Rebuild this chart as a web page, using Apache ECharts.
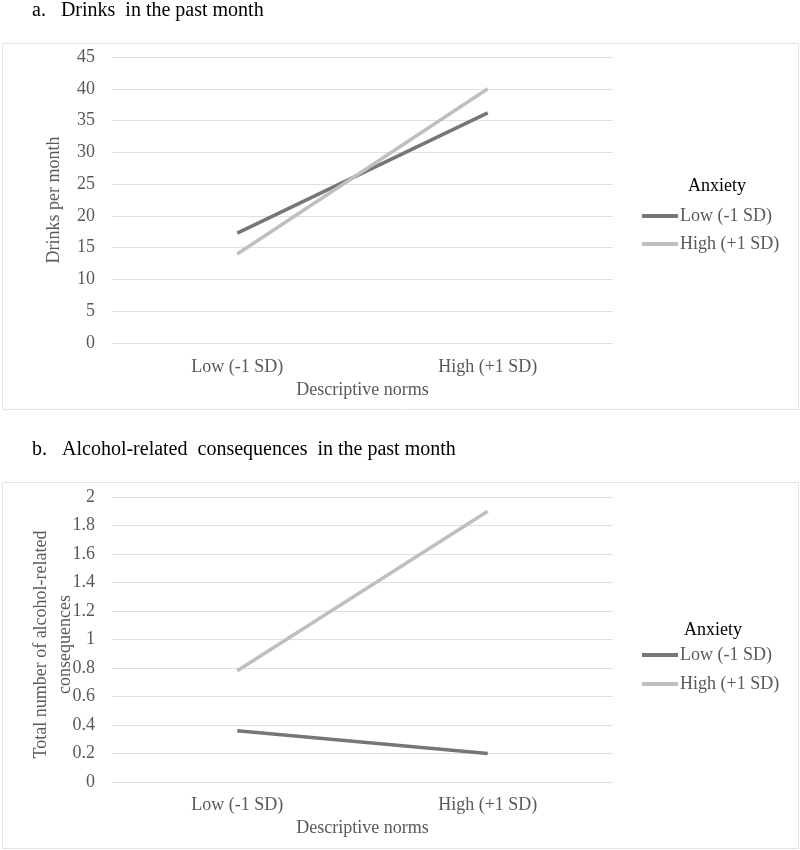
<!DOCTYPE html>
<html><head><meta charset="utf-8">
<script src="https://cdn.jsdelivr.net/npm/echarts@6/dist/echarts.min.js"></script>
<style>html,body{margin:0;padding:0;background:#fff}#c{width:800px;height:850px}</style>
</head><body><div id="c"></div>
<script>
const categories = ['Low (-1 SD)', 'High (+1 SD)'];
const seriesNames = ['Low (-1 SD)', 'High (+1 SD)'];
const drinksLowAnx = [17.3, 36.2];
const drinksHighAnx = [14.0, 40.0];
const consLowAnx = [0.36, 0.20];
const consHighAnx = [0.78, 1.90];
const titleA = 'a.   Drinks  in the past month';
const titleB = 'b.   Alcohol-related  consequences  in the past month';

const FONT = '"Liberation Serif", "Times New Roman", serif';
const GREY = '#595959';
const DARK = '#767676', LIGHT = '#bfbfbf';

const chart = echarts.init(document.getElementById('c'), null, {renderer: 'canvas'});
const axisLabel = {color: GREY, fontFamily: FONT, fontSize: 18};
function xAxis(gi, margin, gap) {
  return {type: 'category', gridIndex: gi, data: categories, boundaryGap: true,
    axisLine: {show: false}, axisTick: {show: false},
    axisLabel: Object.assign({margin: margin}, axisLabel),
    name: 'Descriptive norms', nameLocation: 'middle', nameGap: gap,
    nameTextStyle: {color: GREY, fontFamily: FONT, fontSize: 18}};
}
const ttl = {fontFamily: FONT, fontSize: 20, fontWeight: 'normal', color: '#000'};
const legTtl = {fontFamily: FONT, fontSize: 18, fontWeight: 'normal', color: '#000'};
chart.setOption({
  animation: false,
  textStyle: {fontFamily: FONT},
  title: [
    {text: titleA, left: 27, top: -4, textStyle: ttl},
    {text: titleB, left: 27, top: 435, textStyle: ttl},
    {text: 'Anxiety', left: 683, top: 172, textStyle: legTtl},
    {text: 'Anxiety', left: 679, top: 616, textStyle: legTtl}
  ],
  graphic: [
    {type: 'rect', shape: {x: 2.5, y: 43.5, width: 796, height: 366}, style: {fill: 'none', stroke: '#e3e3e3', lineWidth: 1}, z: -1},
    {type: 'rect', shape: {x: 2.5, y: 482.5, width: 796, height: 366}, style: {fill: 'none', stroke: '#e3e3e3', lineWidth: 1}, z: -1}
  ],
  legend: [
    {data: seriesNames.map(n => ({name: n})), orient: 'vertical', left: 637, top: 202, itemWidth: 36, itemHeight: 4, itemGap: 10,
      icon: 'rect', selectedMode: false, textStyle: {color: GREY, fontFamily: FONT, fontSize: 18, padding: [0,0,0,-3]}},
    {data: seriesNames.map(n => ({name: n})), orient: 'vertical', left: 637, top: 641, itemWidth: 36, itemHeight: 4, itemGap: 11,
      icon: 'rect', selectedMode: false, textStyle: {color: GREY, fontFamily: FONT, fontSize: 18, padding: [0,0,0,-3]}}
  ],
  grid: [
    {left: 112, width: 501, top: 57, height: 286},
    {left: 112, width: 501, top: 497, height: 285}
  ],
  xAxis: [xAxis(0, 15, 38), xAxis(1, 14, 37)],
  yAxis: [
    {type: 'value', gridIndex: 0, min: 0, max: 45, interval: 5,
      axisLine: {show: false}, axisTick: {show: false}, axisLabel: Object.assign({margin: 17}, axisLabel),
      splitLine: {lineStyle: {color: '#e0e0e0', width: 1}},
      name: 'Drinks per month', nameLocation: 'middle', nameGap: 49,
      nameTextStyle: {color: GREY, fontFamily: FONT, fontSize: 18}},
    {type: 'value', gridIndex: 1, min: 0, max: 2, interval: 0.2,
      axisLine: {show: false}, axisTick: {show: false}, axisLabel: Object.assign({margin: 17}, axisLabel),
      splitLine: {lineStyle: {color: '#e0e0e0', width: 1}},
      name: 'Total number of alcohol-related\nconsequences', nameLocation: 'middle', nameGap: 35, nameMoveOverlap: false,
      nameTextStyle: {color: GREY, fontFamily: FONT, fontSize: 18, lineHeight: 24, padding: [0, 10, 0, 0]}}
  ],
  series: [
    {name: seriesNames[0], type: 'line', xAxisIndex: 0, yAxisIndex: 0, data: drinksLowAnx, showSymbol: false, lineStyle: {color: DARK, width: 3.5}, itemStyle: {color: DARK}},
    {name: seriesNames[1], type: 'line', xAxisIndex: 0, yAxisIndex: 0, data: drinksHighAnx, showSymbol: false, lineStyle: {color: LIGHT, width: 3.5}, itemStyle: {color: LIGHT}},
    {name: seriesNames[0], type: 'line', xAxisIndex: 1, yAxisIndex: 1, data: consLowAnx, showSymbol: false, lineStyle: {color: DARK, width: 3.5}, itemStyle: {color: DARK}},
    {name: seriesNames[1], type: 'line', xAxisIndex: 1, yAxisIndex: 1, data: consHighAnx, showSymbol: false, lineStyle: {color: LIGHT, width: 3.5}, itemStyle: {color: LIGHT}}
  ]
});
</script></body></html>
